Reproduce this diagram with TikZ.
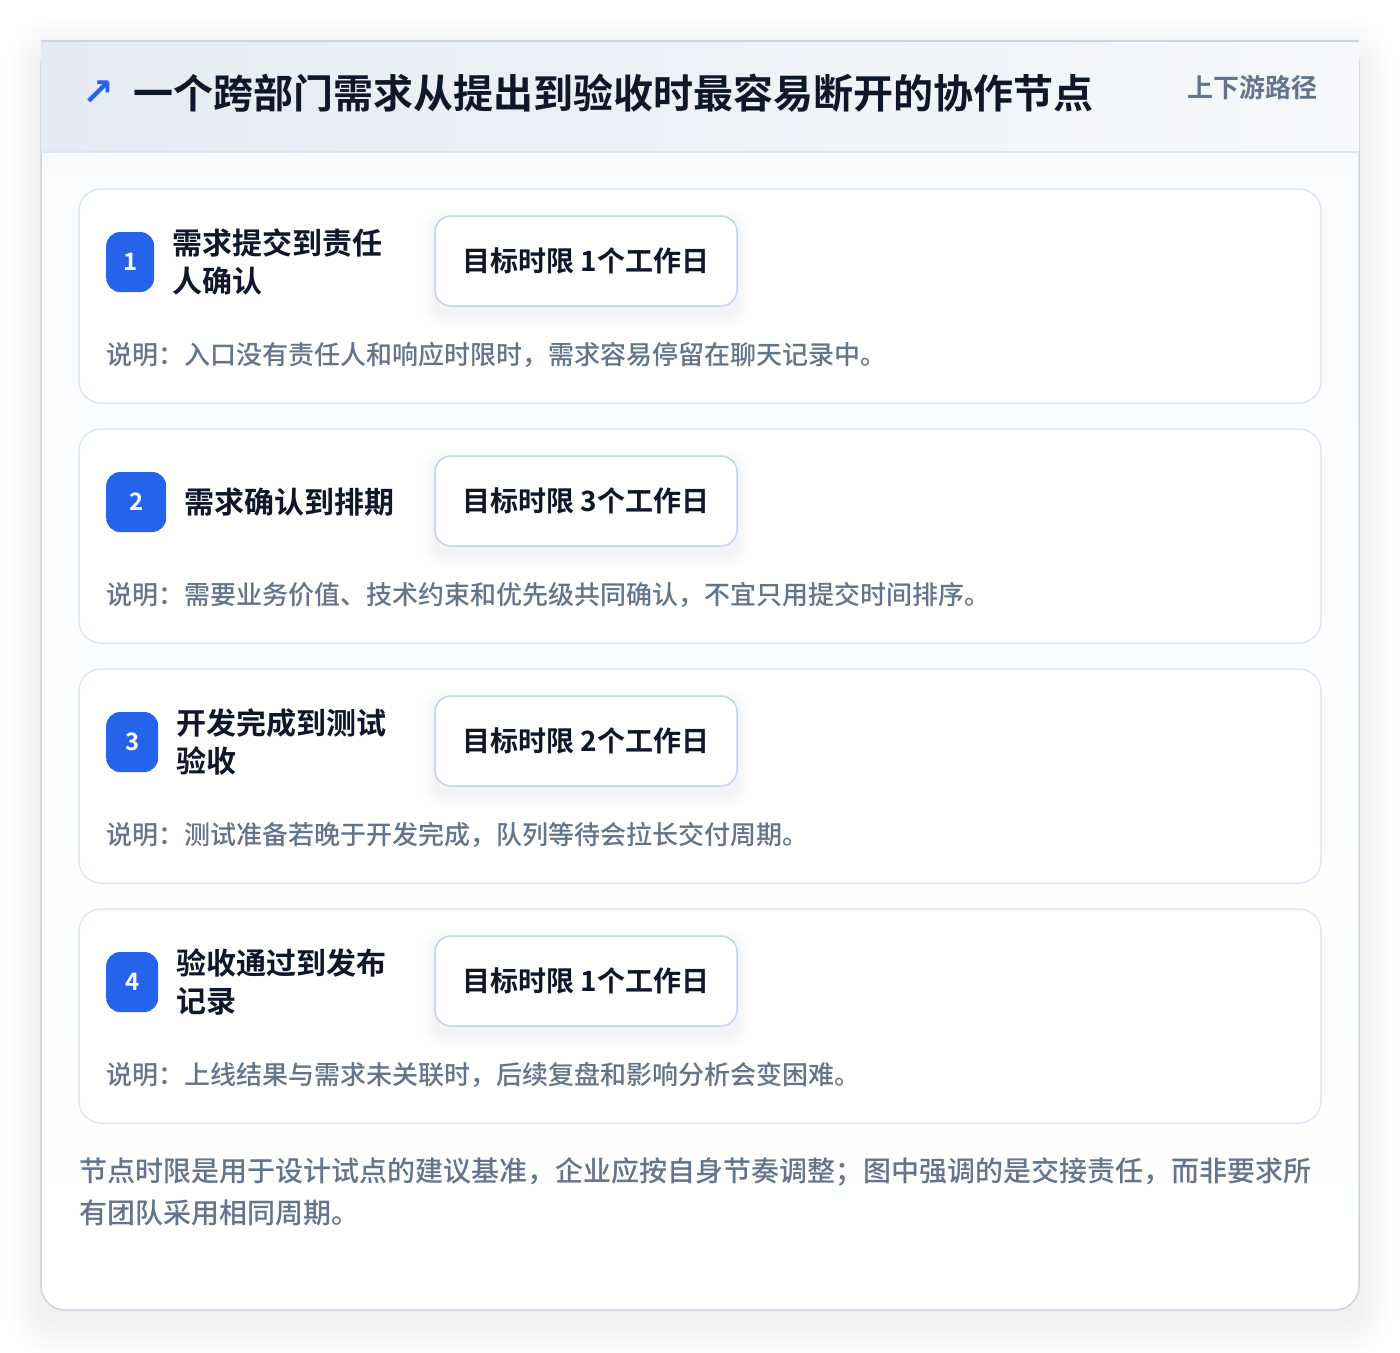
\documentclass[tikz,border=0pt]{standalone}
\usepackage{fontspec}
\setmainfont{Noto Sans CJK SC}[BoldFont={* Bold}]
\newfontfamily\cjkmed{Noto Sans CJK SC Medium}
\newfontfamily\symfont{DejaVu Sans}
\usetikzlibrary{positioning}
\definecolor{inkdark}{HTML}{0F172A}
\definecolor{inkgrey}{HTML}{64748B}
\definecolor{badgeblue}{HTML}{2563EB}
\definecolor{cardline}{HTML}{DCE7F5}
\definecolor{boxline}{HTML}{BFD5F1}
\definecolor{frameline}{HTML}{CBD5E1}
\definecolor{headleft}{HTML}{E6EBF3}
\definecolor{headright}{HTML}{F6F8FB}
\definecolor{bodytop}{HTML}{F8FAFC}

\begin{document}
\begin{tikzpicture}[x=1pt, y=-1pt, >=stealth,
	frame box/.style={draw=frameline, line width=1.5pt, top color=bodytop, bottom color=white,
		rounded corners=24pt, minimum width=1318pt, minimum height=1269pt, inner sep=0pt},
	head band/.style={left color=headleft, right color=headright, minimum width=1318pt,
		minimum height=111pt, inner sep=0pt},
	card box/.style={draw=cardline, line width=1.5pt, fill=white, rounded corners=22pt,
		minimum width=1242pt, minimum height=214pt, inner sep=0pt},
	num badge/.style={fill=badgeblue, rounded corners=14pt, minimum height=60pt, inner sep=0pt,
		text=white, font=\bfseries\fontsize{24}{24}\selectfont},
	stage title/.style={align=left, inner sep=0pt, text=inkdark,
		font=\bfseries\fontsize{30}{38}\selectfont},
	limit box/.style={draw=boxline, line width=1.5pt, fill=white, rounded corners=16pt,
		minimum width=302pt, minimum height=90pt, inner sep=0pt, text=inkdark,
		font=\bfseries\fontsize{28}{28}\selectfont},
	desc text/.style={anchor=west, inner sep=0pt, text=inkgrey,
		font=\cjkmed\fontsize{26}{26}\selectfont},
]

		\useasboundingbox [fill=white] (0,0) rectangle (1400,1352);

		% Soft shadow
		\foreach \s in {1,...,14} {
			\pgfmathsetmacro\rad{24+2*\s}
			\fill [black, opacity=0.005, rounded corners=\rad pt]
				(41-2.5*\s, 53-2.5*\s) rectangle (1359+2.5*\s, 1322+2.5*\s);
		}

		% Frame and header
		\node [frame box] (frame) at (700,675.5) {};
		\node [head band] (head) at (700,96.5) {};
		\draw [frameline, line width=1.5pt] (head.north west) -- (head.north east);
		\draw [cardline, line width=1.5pt] (head.south west) -- (head.south east);

		\node [anchor=west, inner sep=0pt, text=badgeblue,
			font=\symfont\bfseries\fontsize{38}{38}\selectfont] (arrow) at (82,93) {↗};
		\node [anchor=west, inner sep=0pt, text=inkdark,
			font=\bfseries\fontsize{40}{40}\selectfont] (title) at (133,93) {
			一个跨部门需求从提出到验收时最容易断开的协作节点
		};
		\node [anchor=east, inner sep=0pt, text=inkgrey,
			font=\bfseries\fontsize{26}{26}\selectfont] (tag) at (1318,88) {上下游路径};

		% Stages
		\foreach \w/\ttl/\days/\desc [count=\i] in {
			48/{需求提交到责任\\人确认}/1/{入口没有责任人和响应时限时，需求容易停留在聊天记录中。},
			60/{需求确认到排期}/3/{需要业务价值、技术约束和优先级共同确认，不宜只用提交时间排序。},
			52/{开发完成到测试\\验收}/2/{测试准备若晚于开发完成，队列等待会拉长交付周期。},
			52/{验收通过到发布\\记录}/1/{上线结果与需求未关联时，后续复盘和影响分析会变困难。}} {
			\pgfmathsetmacro\ytop{189+240*(\i-1)}
			\node [card box] (card-\i) at (700, \ytop+107) {};
			\node [num badge, minimum width=\w pt, anchor=west] (badge-\i) at (106, \ytop+73) {\i};
			\node [stage title, right=18pt of badge-\i] (name-\i) {\ttl};
			% limit box with faint shadow
			\foreach \s in {1,...,6}
				\fill [black, opacity=0.007, rounded corners=16pt]
					(435-2*\s, \ytop+34-2*\s) rectangle (737+2*\s, \ytop+124+2*\s);
			\node [limit box] (limit-\i) at (586, \ytop+72) {目标时限 {\days}个工作日};
			\node [desc text] (desc-\i) at (106, \ytop+166) {说明：\desc};
		}

		% Footnote
		\node [anchor=west, align=left, inner sep=0pt, text=inkgrey,
			font=\cjkmed\fontsize{28}{42}\selectfont] (footnote) at (79,1192) {
			节点时限是用于设计试点的建议基准，企业应按自身节奏调整；图中强调的是交接责任，而非要求所\\
			有团队采用相同周期。
		};

	\end{tikzpicture}
\end{document}
